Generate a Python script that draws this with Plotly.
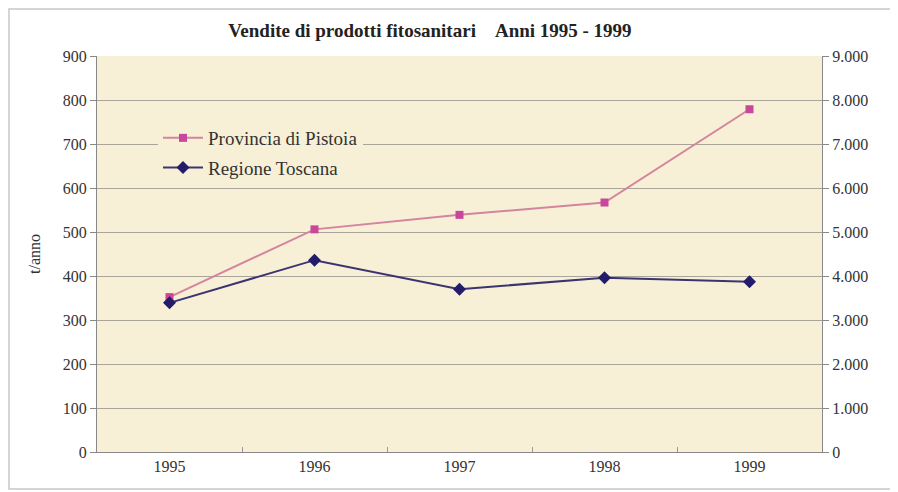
import plotly.graph_objects as go

years = ["1995", "1996", "1997", "1998", "1999"]
pistoia = [352, 506, 539, 567, 779]
toscana = [3390, 4360, 3700, 3960, 3870]
left_ticks = [0, 100, 200, 300, 400, 500, 600, 700, 800, 900]
right_ticks = [0, 1000, 2000, 3000, 4000, 5000, 6000, 7000, 8000, 9000]
right_tick_text = ["0", "1.000", "2.000", "3.000", "4.000", "5.000", "6.000", "7.000", "8.000", "9.000"]

# page body has an 8px margin; work in window pixel coordinates and shift
OFF = 8
W, H = 898 - OFF, 492 - OFF
L, R, T, B = 97 - OFF, 822 - OFF, 56 - OFF, 452 - OFF
pw, ph = R - L, B - T

def px(x):
    return (x - OFF - L) / pw

def py(y):
    return (B - (y - OFF)) / ph

font_family = "Liberation Serif, Times New Roman, serif"
bg = "#F7F0D6"
grid = "#A8A49A"
txt = "#333333"

fig = go.Figure()
fig.add_trace(go.Scatter(
    x=years, y=pistoia, name="Provincia di Pistoia", mode="lines+markers",
    line=dict(color="#D4849E", width=2),
    marker=dict(symbol="square", size=8, color="#C8479A"),
    yaxis="y", legendgroup="a",
))
fig.add_trace(go.Scatter(
    x=years, y=toscana, name="Regione Toscana", mode="lines+markers",
    line=dict(color="#3C3470", width=2),
    marker=dict(symbol="diamond", size=10, color="#231C6B"),
    yaxis="y2", legendgroup="b",
))

fig.update_layout(
    width=W, height=H,
    margin=dict(l=L, r=W - R, t=T, b=H - B, pad=0),
    paper_bgcolor="white",
    plot_bgcolor=bg,
    font=dict(family=font_family, size=16, color=txt),
    title=dict(
        text="<b>Vendite di prodotti fitosanitari&nbsp;&nbsp;&nbsp;&nbsp;Anni 1995 - 1999</b>",
        x=px(430), xanchor="center", xref="paper",
        y=1 - (30 - OFF) / H, yanchor="middle", yref="container",
        font=dict(family=font_family, size=19, color="#222222"),
    ),
    xaxis=dict(
        type="category", range=[-0.5, 4.5],
        showgrid=False, showline=True, linecolor="#888888", linewidth=1,
        ticks="inside", tickson="boundaries", ticklen=5, tickcolor="#999999",
        tickfont=dict(size=16, color=txt), zeroline=False,
    ),
    yaxis=dict(
        range=[0, 900], tickmode="array", tickvals=left_ticks,
        showgrid=True, gridcolor=grid, gridwidth=1,
        showline=True, linecolor="#888888", linewidth=1,
        ticks="outside", ticklen=6, tickcolor="#888888",
        tickfont=dict(size=16, color=txt), zeroline=False,
        title=dict(text="t/anno", font=dict(size=16, color=txt), standoff=18),
    ),
    yaxis2=dict(
        range=[0, 9000], overlaying="y", side="right",
        tickmode="array", tickvals=right_ticks, ticktext=right_tick_text,
        showgrid=False, showline=True, linecolor="#888888", linewidth=1,
        ticks="outside", ticklen=6, tickcolor="#888888",
        tickfont=dict(size=16, color=txt), zeroline=False,
    ),
    legend=dict(
        x=px(158), y=py(119), xanchor="left", yanchor="top",
        bgcolor=bg, borderwidth=0,
        font=dict(family=font_family, size=19, color=txt),
        traceorder="grouped", tracegroupgap=2, itemwidth=40,
    ),
    showlegend=True,
    shapes=[dict(
        type="rect", xref="paper", yref="paper",
        x0=px(9), x1=px(894), y0=py(489), y1=py(9),
        line=dict(color="#C8C8C8", width=1.5), fillcolor="rgba(0,0,0,0)",
        layer="below",
    )],
)

fig.write_html("out.html")
